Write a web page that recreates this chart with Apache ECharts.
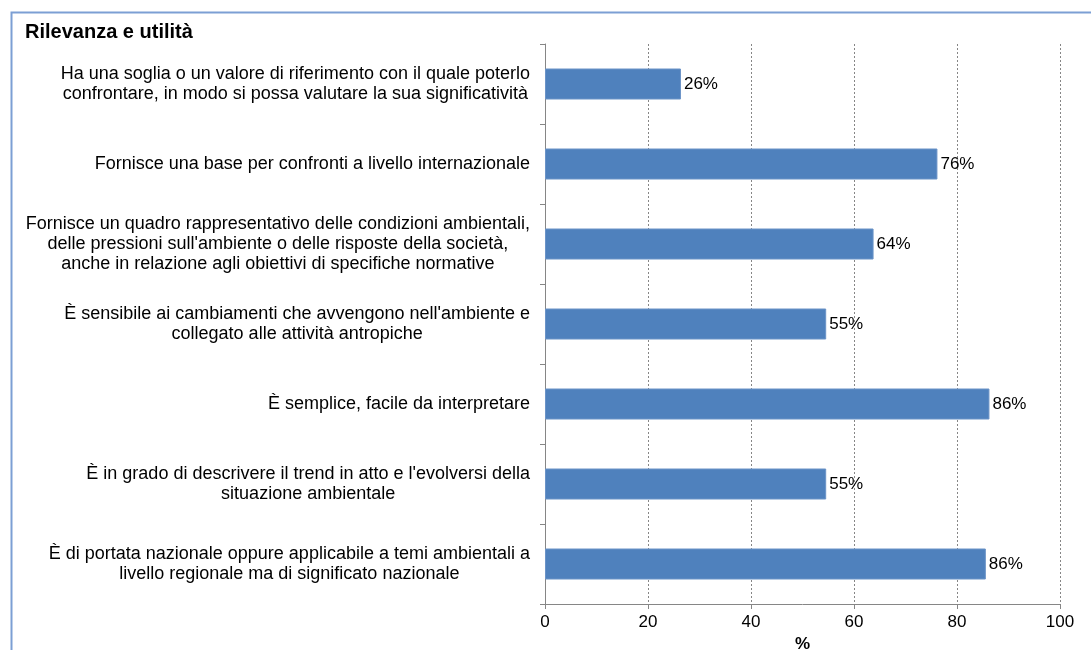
<!DOCTYPE html>
<html>
<head>
<meta charset="utf-8">
<script src="https://cdn.jsdelivr.net/npm/echarts@6/dist/echarts.min.js"></script>
<style>
html,body{margin:0;padding:0;background:#fff;}
#chart{width:1091px;height:650px;}
</style>
</head>
<body>
<div id="chart"></div>
<script>
const title = 'Rilevanza e utilità';
const categories = [
  'Ha una soglia o un valore di riferimento con il quale poterlo\nconfrontare, in modo si possa valutare la sua significatività',
  'Fornisce una base per confronti a livello internazionale',
  'Fornisce un quadro rappresentativo delle condizioni ambientali,\ndelle pressioni sull\'ambiente o delle risposte della società,\nanche in relazione agli obiettivi di specifiche normative',
  'È sensibile ai cambiamenti che avvengono nell\'ambiente e\ncollegato alle attività antropiche',
  'È semplice, facile da interpretare',
  'È in grado di descrivere il trend in atto e l\'evolversi della\nsituazione ambientale',
  'È di portata nazionale oppure applicabile a temi ambientali a\nlivello regionale ma di significato nazionale'
];
const values = [26.4, 76.2, 63.8, 54.6, 86.3, 54.6, 85.6];
const valueLabels = ['26%', '76%', '64%', '55%', '86%', '55%', '86%'];
const xTicks = [0, 20, 40, 60, 80, 100];
const axisName = '%';

const chart = echarts.init(document.getElementById('chart'));
const font = '"Liberation Sans", Arial, sans-serif';
chart.setOption({
  animation: false,
  backgroundColor: '#fff',
  title: {
    text: title, left: 20, top: 17,
    textStyle: {fontFamily: font, fontSize: 20, fontWeight: 'bold', color: '#000'}
  },
  graphic: [{
    type: 'rect', left: 9, top: 10, z: 100,
    shape: {width: 1200, height: 800},
    style: {fill: 'none', stroke: '#7C9FD4', lineWidth: 2}
  }],
  grid: {left: 545, right: 31, top: 44, bottom: 46, outerBoundsMode: 'none', containLabel: false},
  xAxis: {
    type: 'value', min: xTicks[0], max: xTicks[xTicks.length - 1], interval: 20,
    name: axisName, nameLocation: 'middle', nameGap: 31,
    nameTextStyle: {fontFamily: font, fontSize: 17, fontWeight: 'bold', color: '#000'},
    axisLine: {show: true, lineStyle: {color: '#868686'}},
    axisTick: {show: true, length: 5, lineStyle: {color: '#868686'}},
    axisLabel: {fontFamily: font, fontSize: 17, color: '#000', margin: 10},
    splitLine: {show: true, lineStyle: {color: '#868686', type: [2, 2], width: 1}}
  },
  yAxis: {
    type: 'category', data: categories, inverse: true,
    axisLine: {show: true, lineStyle: {color: '#868686'}},
    axisTick: {show: true, length: 5, lineStyle: {color: '#868686'}},
    axisLabel: {
      fontFamily: font, fontSize: 18, color: '#000', margin: 15, lineHeight: 20,
      formatter: function (v) {
        return v.split('\n').map(function (l) { return '{c|' + l + '}'; }).join('\n');
      },
      rich: {c: {align: 'center', fontFamily: font, fontSize: 18, color: '#000', lineHeight: 20}}
    }
  },
  series: [{
    type: 'bar', data: values, barWidth: 31,
    itemStyle: {color: '#4F81BD', borderColor: '#6B93C7', borderWidth: 1},
    label: {
      show: true, position: 'right', distance: 3,
      fontFamily: font, fontSize: 17, color: '#000',
      formatter: function (p) { return valueLabels[p.dataIndex]; }
    }
  }]
});
</script>
</body>
</html>
